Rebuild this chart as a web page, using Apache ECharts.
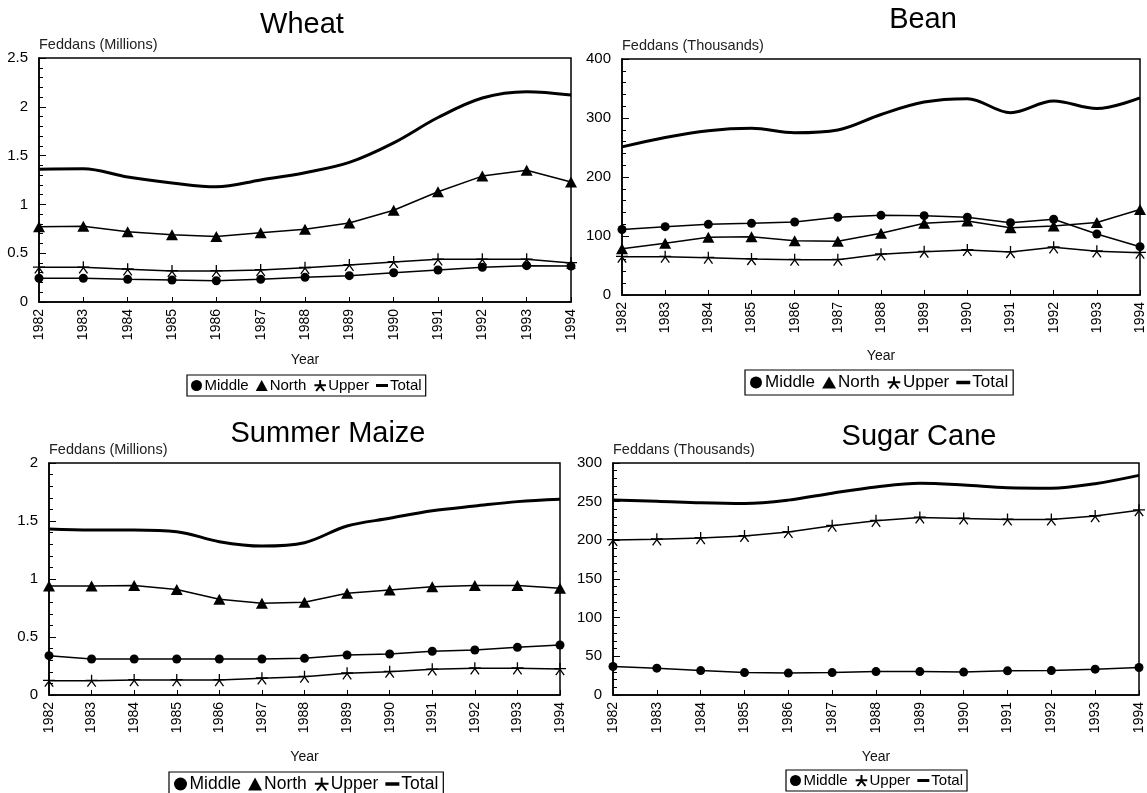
<!DOCTYPE html>
<html>
<head>
<meta charset="utf-8">
<script src="https://cdn.jsdelivr.net/npm/echarts@6/dist/echarts.min.js"></script>
<style>
  html, body { margin: 0; padding: 0; background: #fff; }
  #chart { width: 1147px; height: 793px; }
</style>
</head>
<body>
<div id="chart"></div>
<script>
// Cultivated area by region, 1982-1994
const years = ['1982', '1983', '1984', '1985', '1986', '1987', '1988', '1989', '1990', '1991', '1992', '1993', '1994'];

// Wheat, million feddans
const wheatMiddle = [0.243, 0.243, 0.232, 0.225, 0.218, 0.232, 0.253, 0.27, 0.30, 0.328, 0.355, 0.372, 0.368];
const wheatNorth  = [0.77, 0.775, 0.72, 0.69, 0.67, 0.71, 0.745, 0.81, 0.94, 1.13, 1.29, 1.35, 1.23];
const wheatUpper  = [0.355, 0.355, 0.335, 0.318, 0.318, 0.328, 0.35, 0.38, 0.41, 0.437, 0.437, 0.437, 0.40];
const wheatTotal  = [1.36, 1.365, 1.28, 1.22, 1.18, 1.25, 1.325, 1.43, 1.63, 1.89, 2.09, 2.155, 2.12];

// Bean, thousand feddans
const beanMiddle = [111, 115.8, 119.8, 121.5, 123.7, 131.7, 135, 134.5, 131.7, 122.6, 128.3, 103.4, 81.9];
const beanNorth  = [78.5, 87.6, 97.7, 98.9, 92, 91, 104.5, 121.5, 125.4, 114, 117, 123, 145];
const beanUpper  = [65, 65, 63.3, 61, 59.9, 59.9, 69, 73.4, 76.3, 72.9, 80.8, 74, 71.8];
const beanTotal  = [251, 267, 278.5, 282.5, 275, 279.7, 306, 327, 332.7, 309, 328.8, 316, 334];

// Summer maize, million feddans
const maizeMiddle = [0.339, 0.31, 0.31, 0.31, 0.31, 0.31, 0.316, 0.345, 0.353, 0.377, 0.388, 0.411, 0.431];
const maizeNorth  = [0.94, 0.94, 0.945, 0.91, 0.825, 0.79, 0.80, 0.877, 0.905, 0.934, 0.943, 0.943, 0.92];
const maizeUpper  = [0.123, 0.123, 0.129, 0.129, 0.129, 0.144, 0.158, 0.187, 0.201, 0.221, 0.23, 0.23, 0.224];
const maizeTotal  = [1.431, 1.422, 1.422, 1.408, 1.322, 1.284, 1.313, 1.457, 1.523, 1.589, 1.629, 1.667, 1.687];

// Sugar cane, thousand feddans
const caneMiddle = [36.8, 34.7, 31.6, 29, 28.3, 29, 30.3, 30.3, 29.6, 31.2, 31.6, 33.4, 35.5];
const caneUpper  = [200.5, 201.3, 203, 205.7, 210.8, 219, 225.3, 229.6, 228.3, 227, 227, 231.4, 239];
const caneTotal  = [252, 250.6, 248.5, 247.6, 252, 261, 269, 273.8, 271.6, 268, 267.4, 273.3, 284];

const FONT = '"Liberation Sans", Arial, Helvetica, sans-serif';
const INK = '#000';

// Asterisk marker: strokes only
const STAR = 'path://M10 0L10 10M0 9L20 9M10 10L3 19M10 10L17 19';
const DASH = 'path://M0 0H12V3H0Z';

const panels = [
  { title: 'Wheat', titleX: 297, titleTop: 5,
    grid: { left: 39, top: 58, width: 532, height: 244 },
    yName: 'Feddans (Millions)', yMax: 2.5, yStep: 0.5, yearGap: 51,
    legend: { left: 187, top: 375, size: 15, pad: [3, 4] },
    series: [['Middle', wheatMiddle], ['North', wheatNorth], ['Upper', wheatUpper], ['Total', wheatTotal]] },
  { title: 'Bean', titleX: 918, titleTop: 0,
    grid: { left: 622, top: 59, width: 518, height: 236 },
    yName: 'Feddans (Thousands)', yMax: 400, yStep: 100, yearGap: 54,
    legend: { left: 745, top: 370, size: 17, pad: [4, 5] },
    series: [['Middle', beanMiddle], ['North', beanNorth], ['Upper', beanUpper], ['Total', beanTotal]] },
  { title: 'Summer Maize', titleX: 323, titleTop: 414,
    grid: { left: 49, top: 463, width: 511, height: 232 },
    yName: 'Feddans (Millions)', yMax: 2, yStep: 0.5, yearGap: 55,
    legend: { left: 169, top: 772, size: 17.5, pad: [3, 5] },
    series: [['Middle', maizeMiddle], ['North', maizeNorth], ['Upper', maizeUpper], ['Total', maizeTotal]] },
  { title: 'Sugar Cane', titleX: 914, titleTop: 417,
    grid: { left: 613, top: 463, width: 526, height: 232 },
    yName: 'Feddans (Thousands)', yMax: 300, yStep: 50, yearGap: 55,
    legend: { left: 786, top: 770, size: 15, pad: [3, 4] },
    series: [['Middle', caneMiddle], ['Upper', caneUpper], ['Total', caneTotal]] }
];

const marker = {
  Middle: { symbol: 'circle', symbolSize: 9, icon: 'circle' },
  North:  { symbol: 'triangle', symbolSize: [12, 11], icon: 'triangle' },
  Upper:  { symbol: STAR, symbolSize: 12, icon: STAR },
  Total:  { symbol: 'none', symbolSize: 0, icon: DASH }
};

const option = {
  backgroundColor: '#fff',
  animation: false,
  textStyle: { fontFamily: FONT, color: INK },
  title: [], grid: [], xAxis: [], yAxis: [], legend: [], series: []
};

panels.forEach((p, i) => {
  option.title.push({
    text: p.title, left: p.titleX, top: p.titleTop, textAlign: 'center',
    textStyle: { fontFamily: FONT, fontSize: 29, fontWeight: 'normal', color: INK }
  });
  option.grid.push(Object.assign({
    show: true, borderColor: INK, borderWidth: 1.5, backgroundColor: 'transparent', containLabel: false
  }, p.grid));
  option.xAxis.push({
    type: 'category', gridIndex: i, data: years, boundaryGap: false,
    name: 'Year', nameLocation: 'middle', nameGap: p.yearGap,
    nameTextStyle: { fontFamily: FONT, fontSize: 14, color: '#111' },
    axisLine: { lineStyle: { color: INK, width: 1.5 } },
    axisTick: { inside: true, length: 5, lineStyle: { color: INK, width: 1 } },
    axisLabel: { rotate: 90, margin: 7, fontFamily: FONT, fontSize: 14, color: INK },
    splitLine: { show: false }
  });
  option.yAxis.push({
    type: 'value', gridIndex: i, min: 0, max: p.yMax, interval: p.yStep,
    name: p.yName, nameLocation: 'end', nameGap: 13,
    nameTextStyle: { fontFamily: FONT, fontSize: 14.5, color: '#222', align: 'left', verticalAlign: 'middle' },
    axisLine: { show: true, lineStyle: { color: INK, width: 1.5 } },
    axisTick: { show: true, inside: true, length: 7, lineStyle: { color: INK, width: 1 } },
    minorTick: { show: true, splitNumber: 5, length: 4, lineStyle: { color: INK, width: 1 } },
    axisLabel: { margin: 11, fontFamily: FONT, fontSize: 15, color: INK },
    splitLine: { show: false }
  });
  const lg = p.legend;
  option.legend.push({
    left: lg.left, top: lg.top, orient: 'horizontal',
    borderColor: INK, borderWidth: 1.2, padding: lg.pad, itemGap: 7,
    itemWidth: Math.round(lg.size * 0.8), itemHeight: Math.round(lg.size * 0.72), selectedMode: false,
    textStyle: { fontFamily: FONT, fontSize: lg.size, color: INK, padding: [0, 0, 0, -3] },
    data: p.series.map(s => ({ name: s[0], icon: marker[s[0]].icon }))
  });
  p.series.forEach(([name, values]) => {
    const m = marker[name];
    const isTotal = name === 'Total';
    option.series.push({
      type: 'line', name, xAxisIndex: i, yAxisIndex: i, data: values,
      smooth: isTotal ? 0.35 : false,
      symbol: m.symbol, symbolSize: m.symbolSize, showSymbol: !isTotal,
      lineStyle: { color: INK, width: isTotal ? 3 : 1.5 },
      itemStyle: name === 'Upper'
        ? { color: INK, borderColor: INK, borderWidth: 1.3 }
        : { color: INK, borderColor: INK, borderWidth: 0 },
      emphasis: { disabled: true },
      z: isTotal ? 3 : 4
    });
  });
});

const chart = echarts.init(document.getElementById('chart'), null, { renderer: 'canvas' });
chart.setOption(option);
</script>
</body>
</html>
